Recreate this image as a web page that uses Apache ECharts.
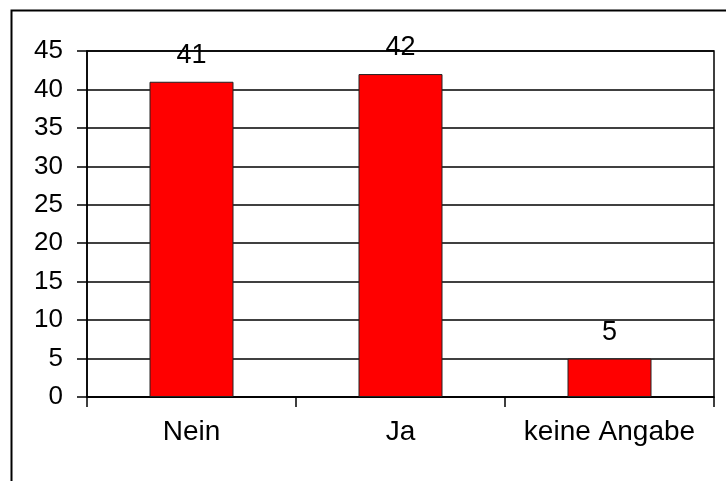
<!DOCTYPE html>
<html>
<head>
<meta charset="utf-8">
<script src="https://cdn.jsdelivr.net/npm/echarts@6/dist/echarts.min.js"></script>
<style>html,body{margin:0;padding:0;background:#fff}#c{width:726px;height:481px}</style>
</head>
<body>
<div id="c"></div>
<script>
const categories = ['Nein', 'Ja', 'keine Angabe'];
const values = [41, 42, 5];
const yTicks = [0, 5, 10, 15, 20, 25, 30, 35, 40, 45];

const chart = echarts.init(document.getElementById('c'), null, {renderer: 'canvas'});
const font = 'Liberation Sans, Arial, sans-serif';
chart.setOption({
  animation: false,
  backgroundColor: '#fff',
  graphic: [{
    type: 'rect', left: 9, top: 8,
    shape: {x: 0, y: 0, width: 900, height: 700},
    style: {fill: 'none', stroke: '#000', lineWidth: 2},
    silent: true, z: -1
  }],
  grid: {left: 87, right: 12, top: 51, bottom: 84, show: true, borderColor: '#000', borderWidth: 1.5, backgroundColor: 'transparent'},
  xAxis: {
    type: 'category', data: categories,
    axisLine: {lineStyle: {color: '#000', width: 1.5}},
    axisTick: {show: true, interval: 0, length: 10, lineStyle: {color: '#000', width: 1.5}},
    axisLabel: {interval: 0, hideOverlap: false, color: '#000', fontFamily: font, fontSize: 28, margin: 21},
    splitLine: {show: false}
  },
  yAxis: {
    type: 'value', min: yTicks[0], max: yTicks[yTicks.length - 1], interval: 5,
    axisLine: {show: true, lineStyle: {color: '#000', width: 1.5}},
    axisTick: {show: true, length: 10, lineStyle: {color: '#000', width: 1.5}},
    axisLabel: {color: '#000', fontFamily: font, fontSize: 26, margin: 24},
    splitLine: {show: true, lineStyle: {color: '#000', width: 1.5}}
  },
  series: [{
    type: 'bar', data: values, barWidth: 84,
    itemStyle: {color: '#FF0000', borderColor: '#222', borderWidth: 1},
    label: {show: true, position: 'top', distance: 13, color: '#000', fontFamily: font, fontSize: 27}
  }]
});
</script>
</body>
</html>
